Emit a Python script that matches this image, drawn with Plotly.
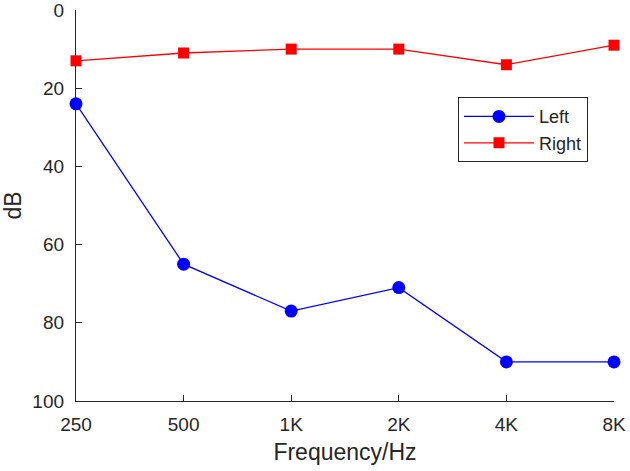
import plotly.graph_objects as go

freqs = ["250", "500", "1K", "2K", "4K", "8K"]
left_db = [24, 65, 77, 71, 90, 90]
right_db = [13, 11, 10, 10, 14, 9]

txt = "#262626"
fig = go.Figure()
fig.add_trace(go.Scatter(x=list(range(len(freqs))), y=left_db, name="Left", mode="lines+markers",
                         line=dict(color="#0000ff", width=1.3),
                         marker=dict(symbol="circle", size=13, color="#0000ff"),
                         cliponaxis=False))
fig.add_trace(go.Scatter(x=list(range(len(freqs))), y=right_db, name="Right", mode="lines+markers",
                         line=dict(color="#ff0000", width=1.3),
                         marker=dict(symbol="square", size=11, color="#ff0000"),
                         cliponaxis=False))

fig.update_layout(
    width=630, height=471,
    margin=dict(l=76, r=16, t=10, b=70),
    paper_bgcolor="white", plot_bgcolor="white",
    font=dict(family="Liberation Sans, Arial, sans-serif", size=19, color=txt),
    showlegend=True,
    legend=dict(x=0.71, y=0.777, xanchor="left", yanchor="top",
                bordercolor=txt, borderwidth=1, bgcolor="white",
                font=dict(size=18), itemwidth=70, tracegroupgap=0),
    xaxis=dict(tickmode="array", tickvals=list(range(len(freqs))), ticktext=freqs,
               range=[0, 5], showgrid=False, zeroline=False, automargin=False,
               showline=True, linecolor=txt, linewidth=1.3,
               ticks="inside", ticklen=6, tickcolor=txt,
               ticklabelstandoff=6, ticklabeloverflow="allow",
               title=dict(text="Frequency/Hz", standoff=9)),
    yaxis=dict(range=[100, 0], tickvals=[0, 20, 40, 60, 80, 100],
               showgrid=False, zeroline=False, automargin=False,
               showline=True, linecolor=txt, linewidth=1.3,
               ticks="inside", ticklen=6, tickcolor=txt,
               ticklabelstandoff=7, ticklabeloverflow="allow",
               title=dict(text="dB", standoff=16)),
)
fig.write_html("out.html", config={"displayModeBar": False},
               post_script="document.body.style.margin='0';")
